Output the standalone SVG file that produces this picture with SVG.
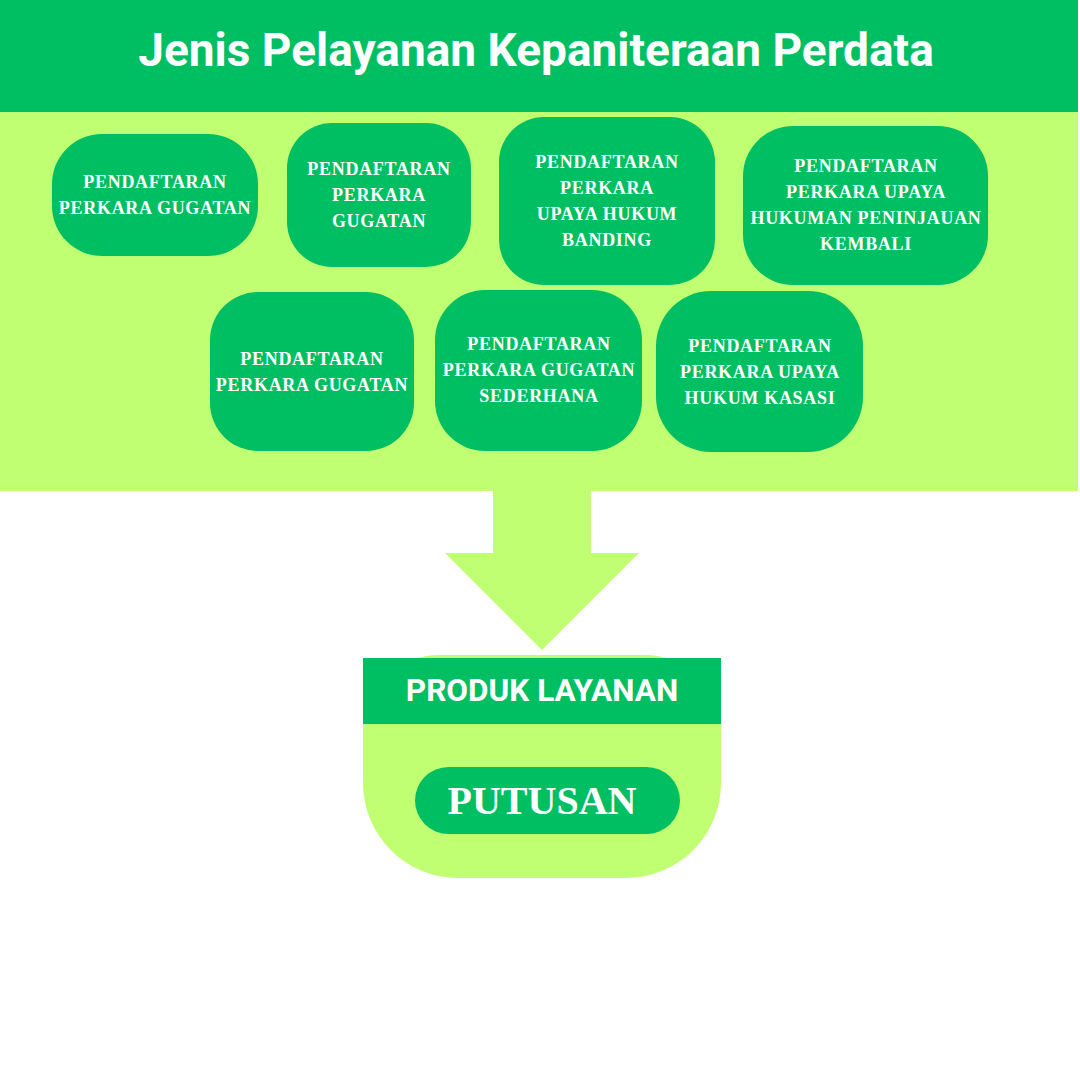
<svg xmlns="http://www.w3.org/2000/svg" width="1080" height="1080" viewBox="0 0 1080 1080">
<style>
.dk{fill:#00BF63}
.lt{fill:#C1FF72}
.nt{font-family:"Liberation Serif","DejaVu Serif",serif;font-weight:bold;font-size:18px;fill:#fff;text-anchor:middle;letter-spacing:0.7px}
.big{font-family:"Liberation Serif","DejaVu Serif",serif;font-weight:bold;font-size:40px;fill:#fff;text-anchor:middle}
.sans{font-family:Roboto,"Liberation Sans",sans-serif;font-weight:bold;fill:#fff;text-anchor:middle}
.title{font-size:46px}
.sub{font-size:31.5px}
</style>
<rect width="1080" height="1080" fill="#fff"/>
<g id="header">
<rect class="dk" x="0" y="0" width="1078" height="112"/>
<text class="sans title" x="536" y="66">Jenis Pelayanan Kepaniteraan Perdata</text>
</g>
<rect id="band" class="lt" x="0" y="112" width="1078" height="379"/>
<g id="n1">
<rect class="dk" x="52" y="134" width="206" height="122" rx="50"/>
<text class="nt" x="155" y="188">PENDAFTARAN</text>
<text class="nt" x="155" y="214">PERKARA GUGATAN</text>
</g>
<g id="n2">
<rect class="dk" x="287" y="123" width="184" height="144" rx="45"/>
<text class="nt" x="379" y="175">PENDAFTARAN</text>
<text class="nt" x="379" y="201">PERKARA</text>
<text class="nt" x="379" y="227">GUGATAN</text>
</g>
<g id="n3">
<rect class="dk" x="499" y="117" width="216" height="168" rx="45"/>
<text class="nt" x="607" y="168">PENDAFTARAN</text>
<text class="nt" x="607" y="194">PERKARA</text>
<text class="nt" x="607" y="220">UPAYA HUKUM</text>
<text class="nt" x="607" y="246">BANDING</text>
</g>
<g id="n4">
<rect class="dk" x="743" y="126" width="245" height="159" rx="50"/>
<text class="nt" x="866" y="172">PENDAFTARAN</text>
<text class="nt" x="866" y="198">PERKARA UPAYA</text>
<text class="nt" x="866" y="224">HUKUMAN PENINJAUAN</text>
<text class="nt" x="866" y="250">KEMBALI</text>
</g>
<g id="n5">
<rect class="dk" x="210" y="292" width="204" height="159" rx="48"/>
<text class="nt" x="312" y="365">PENDAFTARAN</text>
<text class="nt" x="312" y="391">PERKARA GUGATAN</text>
</g>
<g id="n6">
<rect class="dk" x="435" y="290" width="207" height="161" rx="50"/>
<text class="nt" x="539" y="350">PENDAFTARAN</text>
<text class="nt" x="539" y="376">PERKARA GUGATAN</text>
<text class="nt" x="539" y="402">SEDERHANA</text>
</g>
<g id="n7">
<rect class="dk" x="656" y="291" width="207" height="161" rx="55"/>
<text class="nt" x="760" y="352">PENDAFTARAN</text>
<text class="nt" x="760" y="378">PERKARA UPAYA</text>
<text class="nt" x="760" y="404">HUKUM KASASI</text>
</g>
<g id="connectors">
<path class="lt" d="M493 491 H591 V553 H639 L542 650 L445 553 H493 Z"/>
</g>
<g id="produk">
<path class="lt" d="M440 655 H644 A77 70 0 0 1 721 725 V783 A95 95 0 0 1 626 878 H458 A95 95 0 0 1 363 783 V725 A77 70 0 0 1 440 655 Z"/>
<rect class="dk" x="363" y="658" width="358" height="66"/>
<text class="sans sub" x="542" y="701">PRODUK LAYANAN</text>
<rect class="dk" x="415" y="767" width="265" height="67" rx="33.5"/>
<text class="big" x="542" y="814">PUTUSAN</text>
</g>
</svg>
